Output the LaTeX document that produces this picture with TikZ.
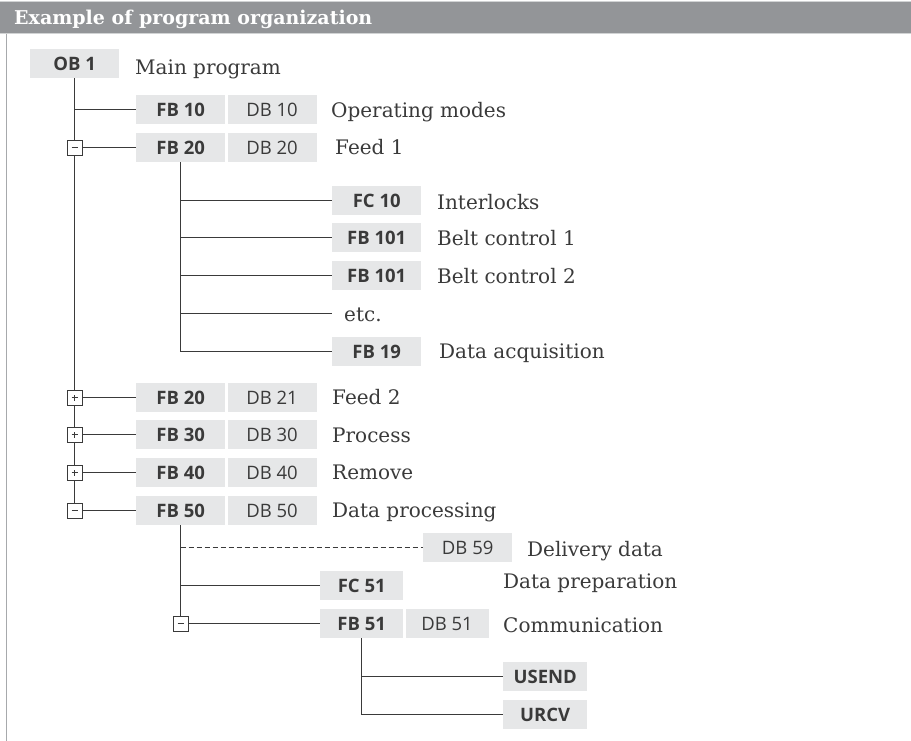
\documentclass[tikz,border=0pt]{standalone}
\usepackage{fontspec}
\setmainfont{DejaVu Serif}
\newfontfamily\blkfont{Open Sans}
\usetikzlibrary{positioning}
\definecolor{bargray}{HTML}{939598}
\definecolor{barline}{HTML}{D1D3D4}
\definecolor{boxgray}{HTML}{E6E7E8}
\definecolor{txtgray}{HTML}{3A3A3A}
\definecolor{edgegray}{HTML}{A7A9AC}
\tikzset{
  blk/.style={fill=boxgray, text=txtgray, font=\blkfont\fontsize{18.5}{18.5}\selectfont,
    minimum width=89pt, minimum height=29pt, inner sep=0pt, anchor=north west},
  fbk/.style={blk, font=\blkfont\bfseries\fontsize{18.5}{18.5}\selectfont},
  lbl/.style={anchor=base west, inner sep=0pt, text=txtgray, font=\fontsize{20}{20}\selectfont},
  tree/.style={draw=txtgray, line width=1.3pt},
  tog/.style={draw=txtgray, fill=white, line width=0.9pt, minimum size=15pt, inner sep=0pt},
  togminus/.style={tog, path picture={
    \draw[txtgray, line width=1.1pt] ([xshift=-3.2pt]path picture bounding box.center) -- ([xshift=3.2pt]path picture bounding box.center);}},
  togplus/.style={tog, path picture={
    \draw[txtgray, line width=1.1pt] ([xshift=-3.2pt]path picture bounding box.center) -- ([xshift=3.2pt]path picture bounding box.center);
    \draw[txtgray, line width=1.1pt] ([yshift=-3.2pt]path picture bounding box.center) -- ([yshift=3.2pt]path picture bounding box.center);}}
}
\begin{document}
\begin{tikzpicture}[x=1pt, y=-1pt]
  \useasboundingbox (0,0) rectangle (911,741);
  \fill[bargray] (0,2) rectangle (911,34);
  \draw[barline, line width=1pt] (0,2) -- (911,2) (0,34) -- (911,34);
  \draw[edgegray, line width=1.6pt] (6.5,34) -- (6.5,741);
  \node[anchor=base west, inner sep=0pt, text=white, font=\bfseries\fontsize{19}{19}\selectfont] (title) at (14,25) {Example of program organization};

  \node[fbk] (ob1) at (30,49) {OB 1};
  \node[lbl] (lmain) at (135,75) {Main program};

  \node[fbk] (fb10) at (136,95) {FB 10};
  \node[blk, right=2pt of fb10] (db10) {DB 10};
  \node[lbl] (lmodes) at (331,118) {Operating modes};

  \node[fbk] (fb20a) at (136,133) {FB 20};
  \node[blk, right=2pt of fb20a] (db20) {DB 20};
  \node[lbl] (lfeeda) at (335,155) {Feed 1};

  \node[fbk] (fc10) at (332,186) {FC 10};
  \node[lbl] (linter) at (437,210) {Interlocks};
  \node[fbk] (fb101a) at (332,223) {FB 101};
  \node[lbl] (lbelta) at (437,245) {Belt control 1};
  \node[fbk] (fb101b) at (332,261) {FB 101};
  \node[lbl] (lbeltb) at (437,283) {Belt control 2};
  \coordinate (etcend) at (332,313.5);
  \node[lbl] (etc) at (344,321) {etc.};
  \node[fbk] (fb19) at (332,337) {FB 19};
  \node[lbl] (lacq) at (439,358) {Data acquisition};

  \node[fbk] (fb20b) at (136,383) {FB 20};
  \node[blk, right=2pt of fb20b] (db21) {DB 21};
  \node[lbl] (lfeedb) at (332,404) {Feed 2};
  \node[fbk] (fb30) at (136,420) {FB 30};
  \node[blk, right=2pt of fb30] (db30) {DB 30};
  \node[lbl] (lproc) at (332,442) {Process};
  \node[fbk] (fb40) at (136,458) {FB 40};
  \node[blk, right=2pt of fb40] (db40) {DB 40};
  \node[lbl] (lrem) at (332,479) {Remove};
  \node[fbk] (fb50) at (136,496) {FB 50};
  \node[blk, right=2pt of fb50] (db50) {DB 50};
  \node[lbl] (ldatap) at (332,517) {Data processing};

  \node[blk] (db59) at (423,533) {DB 59};
  \node[lbl] (ldeliv) at (527,556) {Delivery data};
  \node[fbk, minimum width=83pt] (fc51) at (320,571) {FC 51};
  \node[lbl] (lprep) at (503,588) {Data preparation};
  \node[fbk, minimum width=83pt] (fb51) at (320,609) {FB 51};
  \node[blk, minimum width=83pt, right=2pt of fb51] (db51) {DB 51};
  \node[lbl] (lcomm) at (503,632) {Communication};
  \node[fbk, minimum width=84pt] (usend) at (503,662) {USEND};
  \node[fbk, minimum width=84pt] (urcv) at (503,700) {URCV};

  \draw[tree] (ob1.south) -- (ob1.south |- fb50.west);
  \draw[tree] (ob1.south |- fb10.west) -- (fb10.west);
  \draw[tree] (ob1.south |- fb20a.west) -- (fb20a.west);
  \draw[tree] (ob1.south |- fb20b.west) -- (fb20b.west);
  \draw[tree] (ob1.south |- fb30.west) -- (fb30.west);
  \draw[tree] (ob1.south |- fb40.west) -- (fb40.west);
  \draw[tree] (ob1.south |- fb50.west) -- (fb50.west);

  \draw[tree] (fb20a.south) -- (fb20a.south |- fb19.west);
  \foreach \n in {fc10, fb101a, fb101b, fb19}
    \draw[tree] (fb20a.south |- \n.west) -- (\n.west);
  \draw[tree] (fb20a.south |- etcend) -- (etcend);

  \draw[tree] (fb50.south) -- (fb50.south |- fb51.west);
  \draw[tree, dashed, dash pattern=on 5pt off 3pt, line width=1pt] (fb50.south |- db59.west) -- (db59.west);
  \draw[tree] (fb50.south |- fc51.west) -- (fc51.west);
  \draw[tree] (fb50.south |- fb51.west) -- (fb51.west);

  \draw[tree] (fb51.south) -- (fb51.south |- urcv.west);
  \draw[tree] (fb51.south |- usend.west) -- (usend.west);
  \draw[tree] (fb51.south |- urcv.west) -- (urcv.west);

  \node[togminus] (tga) at (ob1.south |- fb20a.west) {};
  \node[togplus] (tgb) at (ob1.south |- fb20b.west) {};
  \node[togplus] (tgc) at (ob1.south |- fb30.west) {};
  \node[togplus] (tgd) at (ob1.south |- fb40.west) {};
  \node[togminus] (tge) at (ob1.south |- fb50.west) {};
  \node[togminus] (tgf) at (fb50.south |- fb51.west) {};
\end{tikzpicture}
\end{document}
